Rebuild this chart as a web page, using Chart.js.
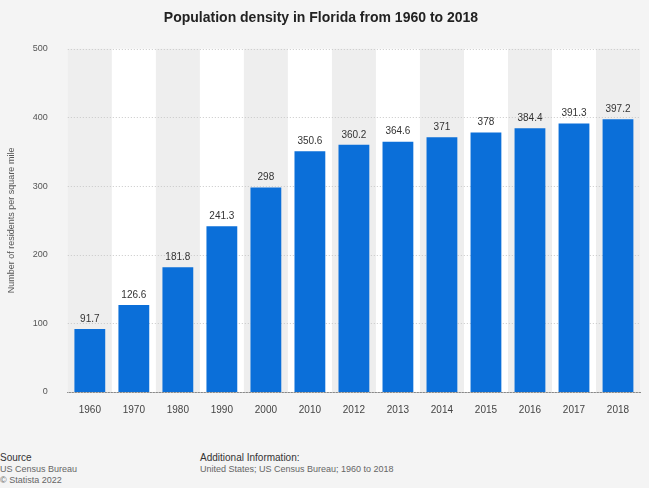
<!DOCTYPE html>
<html><head><meta charset="utf-8">
<script src="https://cdn.jsdelivr.net/npm/chart.js@4"></script>
<style>
body{margin:0;background:#f4f4f4;font-family:"Liberation Sans",Arial,sans-serif;}
#wrap{position:absolute;left:0;top:0;width:649px;height:420px;}
.foot{position:absolute;font-size:9px;color:#666;line-height:11px;}
.foot b{font-weight:normal;color:#333;font-size:10px;}
</style></head><body>
<div id="wrap"><canvas id="myChart"></canvas></div>
<div class="foot" style="left:0;top:452px"><b>Source</b><br>US Census Bureau<br>© Statista 2022</div>
<div class="foot" style="left:200px;top:452px"><b>Additional Information:</b><br>United States; US Census Bureau; 1960 to 2018</div>
<script>
// datos
const anios = ["1960","1970","1980","1990","2000","2010","2012","2013","2014","2015","2016","2017","2018"];
const densidad = [91.7,126.6,181.8,241.3,298,350.6,360.2,364.6,371,378,384.4,391.3,397.2];
const ticksY = [0,100,200,300,400,500];

// bandas alternas de fondo
const bandas = {
  id:"bandas",
  beforeDatasetsDraw(chart){
    const {ctx, chartArea:a, scales:{x}} = chart;
    ctx.save();
    ctx.fillStyle="#eeeeee";
    ctx.fillRect(a.left,a.top,a.right-a.left,a.bottom-a.top);
    const w = x.getPixelForValue(1)-x.getPixelForValue(0);
    anios.forEach((c,i)=>{
      if(i%2==1){
        ctx.fillStyle="#ffffff";
        ctx.fillRect(x.getPixelForValue(i)-w/2,a.top,w,a.bottom-a.top);
      }
    });
    // lineas de rejilla punteadas
    ctx.strokeStyle="#c8c8c8"; ctx.setLineDash([1,2]); ctx.lineWidth=1;
    const y = chart.scales.y;
    ticksY.forEach(t=>{
      const py=Math.round(y.getPixelForValue(t))+0.5;
      ctx.beginPath(); ctx.moveTo(a.left,py); ctx.lineTo(a.right,py); ctx.stroke();
    });
    ctx.restore();
  }
};
// etiquetas de valor
const etiquetas = {
  id:"etiquetas",
  afterDatasetsDraw(chart){
    const ctx=chart.ctx;
    ctx.save();
    ctx.font="10px 'Liberation Sans', Arial";
    ctx.fillStyle="#333"; ctx.textAlign="center"; ctx.textBaseline="bottom";
    chart.getDatasetMeta(0).data.forEach((b,i)=>{
      ctx.fillText(String(densidad[i]), b.x, b.y-5);
    });
    ctx.restore();
  }
};

new Chart(document.getElementById("myChart"),{
  type:"bar",
  data:{labels:anios,datasets:[{data:densidad,backgroundColor:"#0b6fd9",barPercentage:0.7,categoryPercentage:1}]},
  options:{
    responsive:true,maintainAspectRatio:false,animation:false,
    layout:{padding:{left:2,right:9,top:0,bottom:0}},
    plugins:{
      legend:{display:false},tooltip:{enabled:false},
      title:{display:true,text:"Population density in Florida from 1960 to 2018",
        color:"#222",font:{family:"'Liberation Sans', Arial",size:14,weight:"bold"},padding:{top:10,bottom:22}}
    },
    scales:{
      x:{grid:{display:false},border:{display:true,color:"#888"},
         ticks:{color:"#444",font:{size:10,family:"'Liberation Sans', Arial"},padding:4}},
      y:{min:0,max:500,afterBuildTicks(s){s.ticks=ticksY.map(v=>({value:v}));},
         grid:{display:false},border:{display:false},
         ticks:{color:"#555",font:{size:9,family:"'Liberation Sans', Arial"},padding:12},
         title:{display:true,text:"Number of residents per square mile",color:"#555",font:{size:9,family:"'Liberation Sans', Arial"}}}
    }
  },
  plugins:[bandas,etiquetas]
});
</script>
</body></html>
